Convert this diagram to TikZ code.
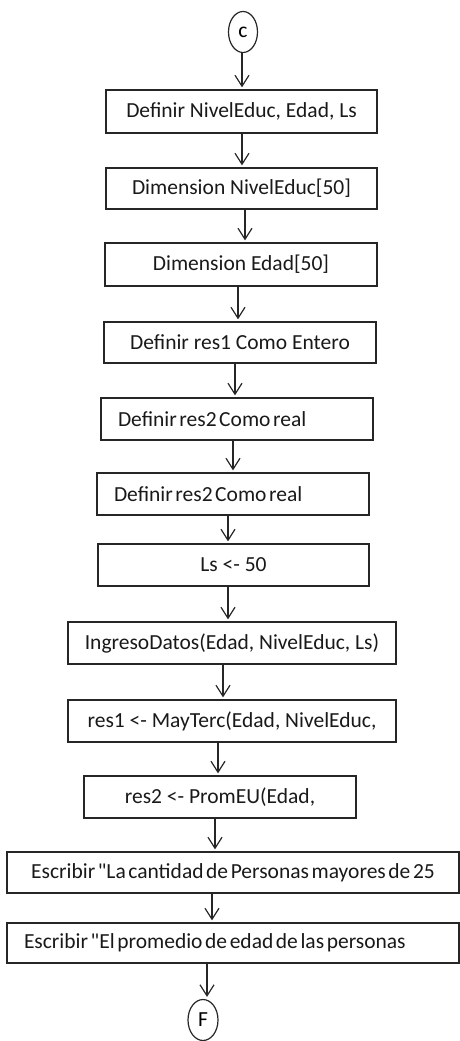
\documentclass[tikz,border=0pt]{standalone}
\usepackage{fontspec}
\setmainfont{Carlito}
\usetikzlibrary{arrows.meta,shapes.geometric}
\DeclareRobustCommand\boxfont{\fontsize{21.5}{26}\selectfont}
\DeclareRobustCommand\tightboxfont{\fontsize{21.5}{26}\selectfont\spaceskip=2.6pt plus 1pt minus 0.5pt\relax}
\newcommand\tsp{\spaceskip=2.6pt plus 1pt minus 0.5pt\relax}
\tikzset{
  box/.style={draw=black!85, line width=1.3pt, inner sep=0pt, minimum height=42pt,
              font=\boxfont, text=black!90},
  lbox/.style={box, inner xsep=17pt},
  tight/.style={font=\tightboxfont},
  term/.style={draw=black!85, line width=1.2pt, ellipse, inner sep=0pt,
               minimum width=29pt, minimum height=41pt, font=\boxfont},
  arr/.style={line width=1.2pt, draw=black!85, -{Straight Barb[length=11pt,width=14pt]}, shorten >=2pt},
}
\begin{document}
\begin{tikzpicture}[x=1pt,y=-1pt]
\useasboundingbox (0,0) rectangle (460,1041);
\node[term] (c) at (243,32) {c};
\node[box, minimum width=271pt, minimum height=43pt] (b1) at (241.5,111.5) {Definir NivelEduc, Edad, Ls};
\node[box, minimum width=271pt, minimum height=41pt] (b2) at (241.5,188.5) {Dimension NivelEduc[50]};
\node[box, minimum width=272pt, minimum height=43pt] (b3) at (241,264.5) {Dimension Edad[50]};
\node[box, minimum width=272pt, minimum height=41pt] (b4) at (240,342.5) {Definir res1 Como Entero};
\node[lbox, tight, text width=238pt, minimum height=42pt] (b5) at (237,419) {\tsp Definir res2 Como real};
\node[lbox, tight, text width=238pt, minimum height=42pt] (b6) at (233,494) {\tsp Definir res2 Como real};
\node[box, minimum width=271pt, minimum height=42pt] (b7) at (233.5,565) {Ls <- 50};
\node[box, minimum width=328pt, minimum height=42pt] (b8) at (232,643) {IngresoDatos(Edad, NivelEduc, Ls)};
\node[box, minimum width=328pt, minimum height=42pt] (b9) at (232,721) {res1 <- MayTerc(Edad, NivelEduc,};
\node[box, minimum width=272pt, minimum height=42pt] (b10) at (220,797) {res2 <- PromEU(Edad,};
\node[box, tight, minimum width=452pt, minimum height=41pt] (b11) at (233,872.5) {Escribir \textquotedbl La cantidad de Personas mayores de 25};
\node[lbox, tight, text width=418pt, minimum height=40pt] (b12) at (233,943) {\tsp Escribir \textquotedbl El promedio de edad de las personas};
\node[term, minimum width=30pt] (f) at (203,1020) {F};
\draw[arr] ([xshift=-1pt]c.south) -- ([xshift=0.5pt]b1.north);
\draw[arr] ([xshift=0.5pt]b1.south) -- ([xshift=0.5pt]b2.north);
\draw[arr] ([xshift=3.5pt]b2.south) -- ([xshift=4pt]b3.north);
\draw[arr] ([xshift=-3pt]b3.south) -- ([xshift=-2pt]b4.north);
\draw[arr] ([xshift=-5pt]b4.south) -- ([xshift=-2pt]b5.north);
\draw[arr] ([xshift=-4pt]b5.south) -- ([xshift=0pt]b6.north);
\draw[arr] ([xshift=-5pt]b6.south) -- ([xshift=-5.5pt]b7.north);
\draw[arr] ([xshift=-5.5pt]b7.south) -- ([xshift=-4pt]b8.north);
\draw[arr] ([xshift=-9pt]b8.south) -- ([xshift=-9pt]b9.north);
\draw[arr] ([xshift=-14pt]b9.south) -- ([xshift=-2pt]b10.north);
\draw[arr] ([xshift=-5pt]b10.south) -- ([xshift=-18pt]b11.north);
\draw[arr] ([xshift=-21pt]b11.south) -- ([xshift=-21pt]b12.north);
\draw[arr] ([xshift=-26pt]b12.south) -- ([xshift=4pt]f.north);
\end{tikzpicture}
\end{document}
